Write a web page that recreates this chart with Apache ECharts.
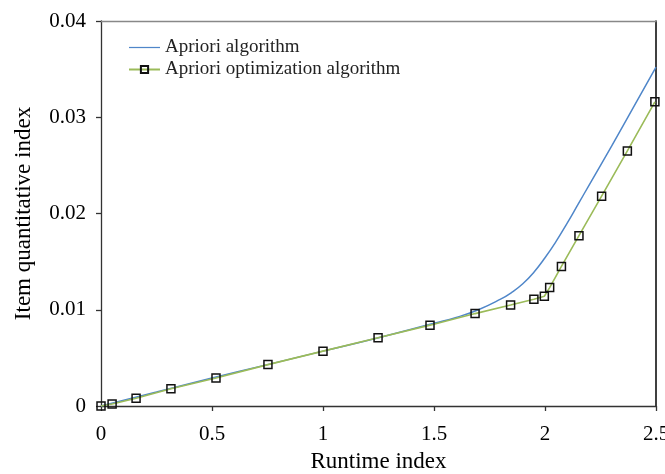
<!DOCTYPE html>
<html>
<head>
<meta charset="utf-8">
<script src="https://cdn.jsdelivr.net/npm/echarts@6/dist/echarts.min.js"></script>
<style>html,body{margin:0;padding:0;background:#fff}#c{width:665px;height:474px}</style>
</head>
<body>
<div id="c"></div>
<script>
const seriesNames = ['Apriori algorithm', 'Apriori optimization algorithm'];
const aprioriX = [0, 0.25, 0.5, 0.75, 1.0, 1.25, 1.5, 1.6, 1.7, 1.8, 1.85, 1.9, 1.95, 2.0, 2.05, 2.1, 2.15, 2.2, 2.3, 2.4, 2.5];
const aprioriY = [0, 0.00145, 0.0029, 0.0043, 0.0057, 0.0071, 0.0086, 0.0092, 0.0100, 0.0111, 0.0118, 0.0127, 0.0139, 0.0154, 0.0171, 0.0190, 0.0210, 0.0230, 0.0270, 0.0311, 0.0352];
const optX = [0, 0.05, 0.158, 0.315, 0.518, 0.752, 1.0, 1.248, 1.482, 1.685, 1.845, 1.95, 1.997, 2.021, 2.074, 2.153, 2.255, 2.371, 2.495];
const optY = [0, 0.0002, 0.0008, 0.0018, 0.0029, 0.0043, 0.0057, 0.0071, 0.0084, 0.0096, 0.0105, 0.0111, 0.0114, 0.0123, 0.0145, 0.0177, 0.0218, 0.0265, 0.0316];
const xName = 'Runtime index';
const yName = 'Item quantitative index';

const font = '"Liberation Serif", "Times New Roman", serif';
const chart = echarts.init(document.getElementById('c'), null, {renderer: 'canvas'});
const zip = (xs, ys) => xs.map((x, i) => [x, ys[i]]);

chart.setOption({
  animation: false,
  backgroundColor: '#fff',
  textStyle: {fontFamily: font},
  grid: {left: 101, right: 9, top: 21, bottom: 68, containLabel: false, outerBoundsMode: 'none'},
  legend: {
    orient: 'vertical', left: 123, top: 33,
    itemWidth: 31, itemHeight: 9, itemGap: 3,
    textStyle: {fontFamily: font, fontSize: 19, color: '#222', lineHeight: 19},
    data: [
      {name: seriesNames[0], icon: 'path://M0,0L40,0L40,1.6L0,1.6Z', itemStyle: {color: '#4f86c9'}},
      {name: seriesNames[1]}
    ]
  },
  xAxis: [{
    type: 'value', min: 0, max: 2.5, interval: 0.5,
    name: xName, nameLocation: 'middle', nameGap: 44,
    nameTextStyle: {fontFamily: font, fontSize: 23, color: '#000'},
    axisLine: {show: true, onZero: false, lineStyle: {color: '#333', width: 1.3}},
    axisTick: {show: true, inside: false, length: 5, lineStyle: {color: '#333', width: 1.3}},
    axisLabel: {fontFamily: font, fontSize: 21, color: '#000', margin: 18},
    splitLine: {show: false}
  }, {
    type: 'value', position: 'top', min: 0, max: 2.5,
    axisLine: {show: true, onZero: false, lineStyle: {color: '#888', width: 1.3}},
    axisTick: {show: false}, axisLabel: {show: false}, splitLine: {show: false}
  }],
  yAxis: [{
    type: 'value', min: 0, max: 0.04, interval: 0.01,
    name: yName, nameLocation: 'middle', nameGap: 66, nameRotate: 90,
    nameTextStyle: {fontFamily: font, fontSize: 23, color: '#000'},
    axisLine: {show: true, onZero: false, lineStyle: {color: '#333', width: 1.3}},
    axisTick: {show: true, inside: false, length: 5, lineStyle: {color: '#333', width: 1.3}},
    axisLabel: {fontFamily: font, fontSize: 21, color: '#000', margin: 15},
    splitLine: {show: false}
  }, {
    type: 'value', position: 'right', min: 0, max: 0.04,
    axisLine: {show: true, onZero: false, lineStyle: {color: '#000', width: 1.5}},
    axisTick: {show: false}, axisLabel: {show: false}, splitLine: {show: false}
  }],
  series: [{
    name: seriesNames[0], type: 'line', smooth: 0.5,
    data: zip(aprioriX, aprioriY), showSymbol: false, symbol: 'none',
    lineStyle: {color: '#4f86c9', width: 1.5}, itemStyle: {color: '#4f86c9'}
  }, {
    name: seriesNames[1], type: 'line',
    data: zip(optX, optY), symbol: 'rect', symbolSize: 8, showSymbol: true,
    lineStyle: {color: '#9bbb59', width: 1.6},
    itemStyle: {color: 'rgba(255,255,255,0)', borderColor: '#111', borderWidth: 1.5}
  }]
});
</script>
</body>
</html>
